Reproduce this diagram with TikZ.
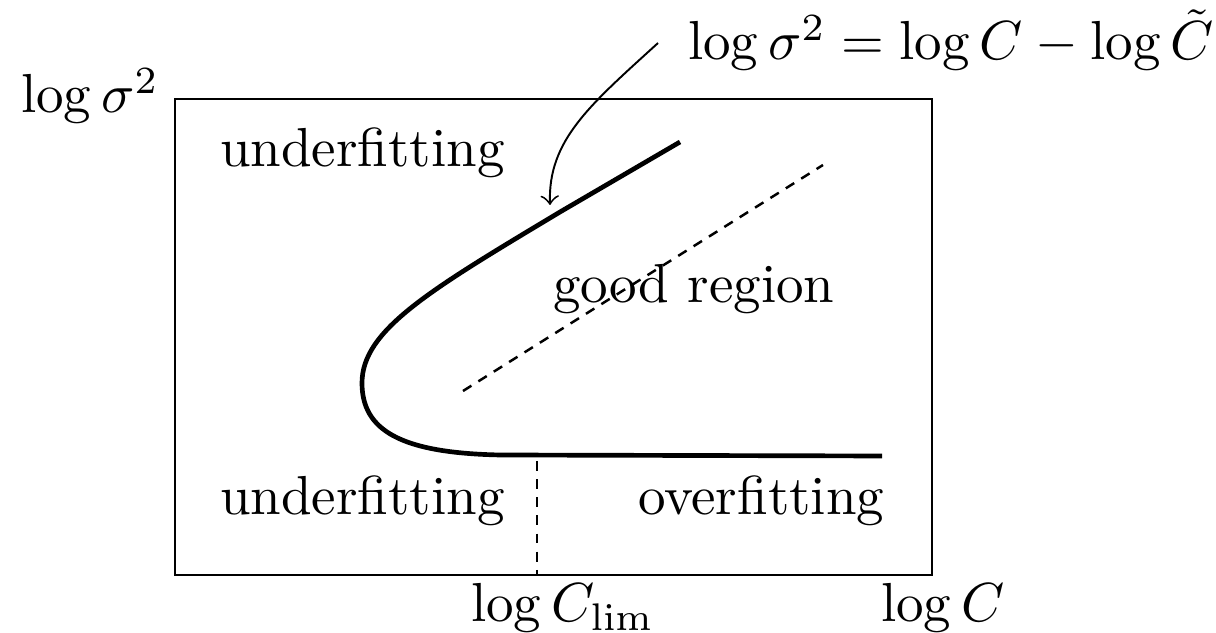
\documentclass[tikz,border=0pt]{standalone}
\usepackage{amsmath,amssymb}
\usetikzlibrary{arrows,positioning,calc}

\begin{document}
\begin{tikzpicture}[x=0.18182pt,y=-0.18182pt,
  label/.style={inner sep=0pt,anchor=base west},
  frontier/.style={line width=0.85pt},
  guide/.style={line width=0.45pt,dash pattern=on 1.8pt off 1.5pt}]
\useasboundingbox (0,0) rectangle (1216,633);
\coordinate (sw) at (175,575);
\coordinate (ne) at (932,99);
\draw[line width=0.45pt] (sw) rectangle (ne);
\node[label] (ylab) at (20,113) {$\log\sigma^2$};
\node[label] (xlab) at (880,622) {$\log C$};
\node[label] (clim) at (470,622) {$\log C_{\mathrm{lim}}$};
\node[label] (eq) at (687,60) {$\log\sigma^2=\log C-\log\tilde{C}$};
\node[label] (under1) at (219,167) {underfitting};
\node[label] (under2) at (219,515) {underfitting};
\node[label] (over) at (637,515) {overfitting};
\node[label] (good) at (552,303) {good region};
\coordinate (top) at (680,142);
\coordinate (nose) at (362,383);
\coordinate (foot) at (500,455);
\coordinate (end) at (882,456);
\coordinate (lo) at (463,391);
\coordinate (hi) at (823,165);
\coordinate (tip) at (550,205);
\coordinate (lim) at (537,575);
\draw[frontier] (top) -- (560,212) .. controls (430,290) and (362,330) .. (nose)
  .. controls (362,430) and (400,453) .. (foot) -- (end);
\draw[guide] (lim |- foot) ++(0,6) -- (lim);
\draw[guide] (lo) -- (hi);
\draw[->,line width=0.35pt] ($(eq.west)+(-29,3)$) .. controls (590,105) and (548,140) .. (tip);
\end{tikzpicture}
\end{document}
